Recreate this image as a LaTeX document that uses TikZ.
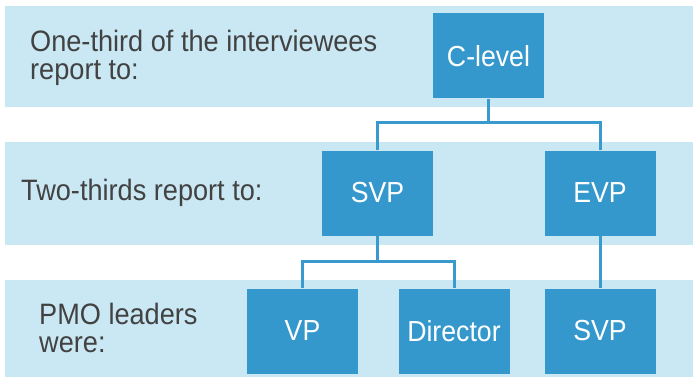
\documentclass[tikz,border=0pt]{standalone}
\usepackage{fontspec}
\setmainfont{Liberation Sans}[FakeStretch=0.92]
\definecolor{band}{HTML}{C9E8F4}
\definecolor{boxblue}{HTML}{3598CC}
\definecolor{linkblue}{HTML}{3A9ACD}
\definecolor{txt}{HTML}{424242}
\begin{document}
\begin{tikzpicture}[x=1pt,y=-1pt,
  bandbox/.style={fill=band,draw=none},
  rolebox/.style={rectangle,fill=boxblue,draw=none,minimum width=111pt,minimum height=85pt,inner sep=0pt,text=white,font=\fontsize{29}{29}\selectfont},
  lbl/.style={anchor=west,align=left,text=txt,inner sep=0pt,font=\fontsize{29.5}{28}\selectfont},
  conn/.style={draw=linkblue,line width=3pt}]
\useasboundingbox (0,0) rectangle (693,377);
% bands
\fill[bandbox] (5,6) rectangle (693,107);
\fill[bandbox] (5,142) rectangle (693,245);
\fill[bandbox] (5,280) rectangle (693,377);
% labels
\node[lbl] (t1) at (30,58) {One-third of the interviewees\\report to:};
\node[lbl] (t2) at (21,193) {Two-thirds report to:};
\node[lbl] (t3) at (39,328) {PMO leaders\\were:};
% boxes
\node[rolebox] (c) at (488.5,56) {C-level};
\node[rolebox] (svp) at (377.5,193) {SVP};
\node[rolebox] (evp) at (600,193) {EVP};
\node[rolebox] (vp) at (302.5,331) {VP};
\node[rolebox] (dir) at (454,331) {Director};
\node[rolebox] (svpb) at (600,331) {SVP};
% junctions
\coordinate (j1) at (488.5,123);
\coordinate (j2) at (377.5,261);
% connectors
\draw[conn] (c.south) -- (j1);
\draw[conn] (svp.north) |- (j1) -| (evp.north);
\draw[conn] (svp.south) -- (j2);
\draw[conn] (vp.north) |- (j2) -| (dir.north);
\draw[conn] (evp.south) -- (svpb.north);
\end{tikzpicture}
\end{document}
